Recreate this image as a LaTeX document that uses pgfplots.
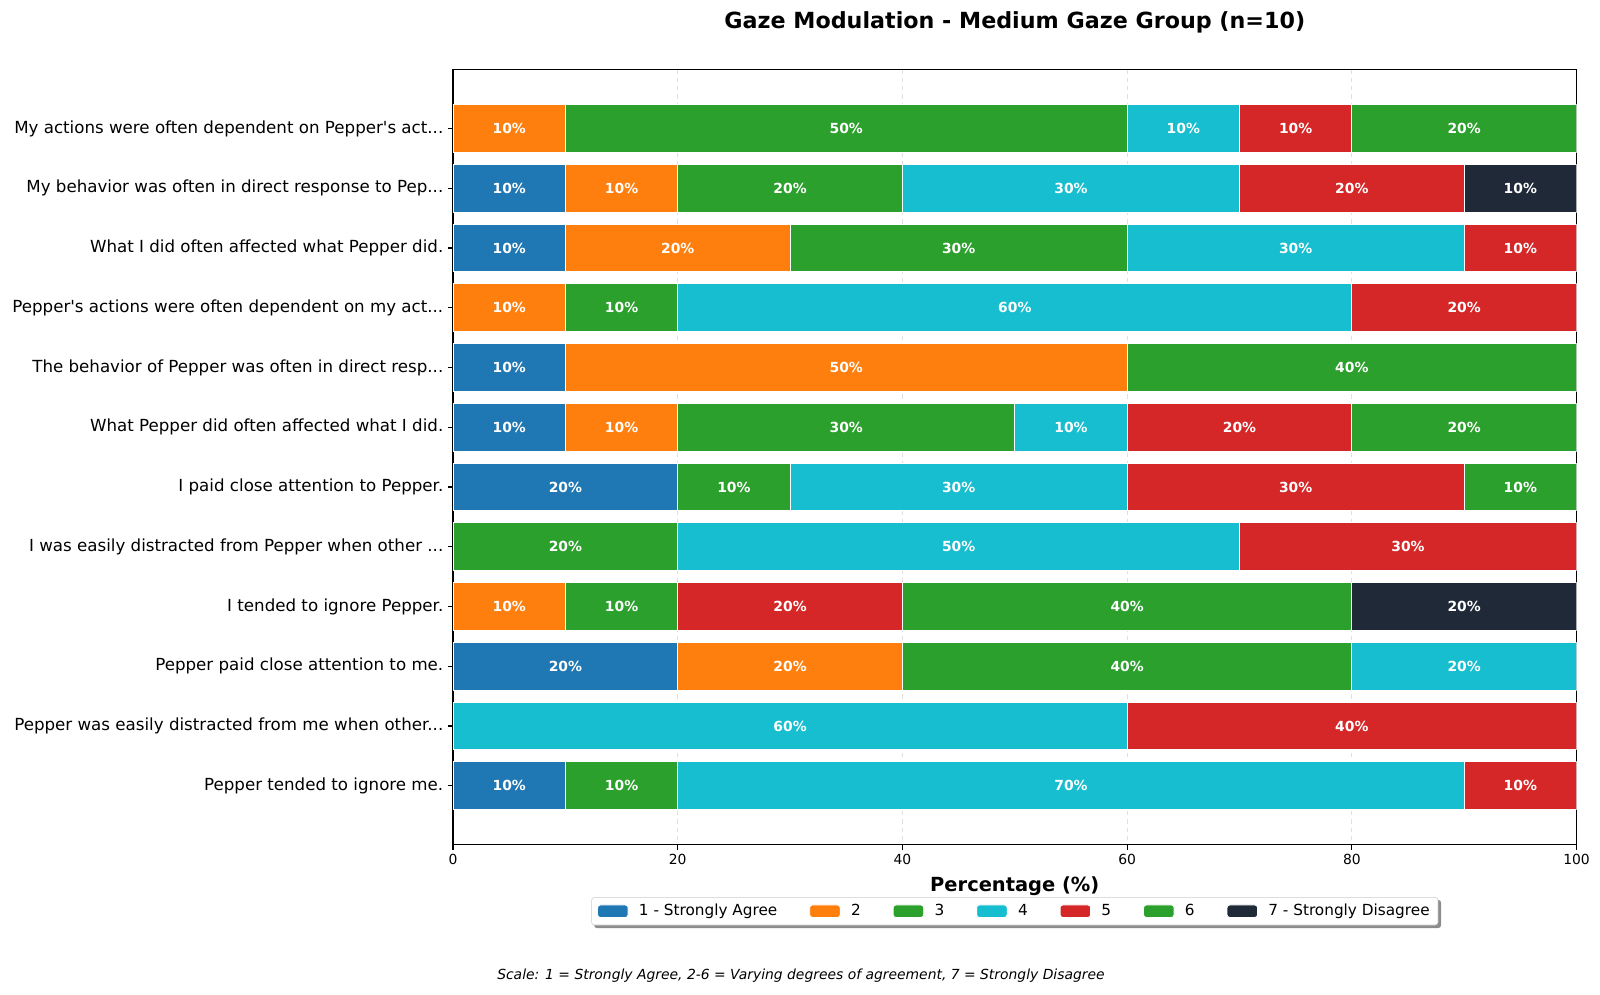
\documentclass[border=0pt]{standalone}
\usepackage{pgfplots}
\pgfplotsset{compat=1.18}
\usepackage{pgfplotstable}
\usepackage{fontspec}
\setmainfont{DejaVu Sans}
\pgfdeclarelayer{background}
\pgfsetlayers{background,main}
\definecolor{c1}{HTML}{1F77B4}
\definecolor{c2}{HTML}{FF7F0E}
\definecolor{c3}{HTML}{2CA02C}
\definecolor{c4}{HTML}{17BECF}
\definecolor{c5}{HTML}{D62728}
\definecolor{c6}{HTML}{2CA02C}
\definecolor{c7}{HTML}{1F2937}

\pgfplotstableread{
y c1 c2 c3 c4 c5 c6 c7
0 0 10 50 10 10 20 0
1 10 10 20 30 20 0 10
2 10 20 30 30 10 0 0
3 0 10 10 60 20 0 0
4 10 50 40 0 0 0 0
5 10 10 30 10 20 20 0
6 20 0 10 30 30 10 0
7 0 0 20 50 30 0 0
8 0 10 10 0 20 40 20
9 20 20 40 20 0 0 0
10 0 0 0 60 40 0 0
11 10 0 10 70 10 0 0
}\datatable

\pgfplotstableread{
x y v
5 0 10
35 0 50
65 0 10
75 0 10
90 0 20
5 1 10
15 1 10
30 1 20
55 1 30
80 1 20
95 1 10
5 2 10
20 2 20
45 2 30
75 2 30
95 2 10
5 3 10
15 3 10
50 3 60
90 3 20
5 4 10
35 4 50
80 4 40
5 5 10
15 5 10
35 5 30
55 5 10
70 5 20
90 5 20
10 6 20
25 6 10
45 6 30
75 6 30
95 6 10
10 7 20
45 7 50
85 7 30
5 8 10
15 8 10
30 8 20
60 8 40
90 8 20
10 9 20
30 9 20
60 9 40
90 9 20
30 10 60
80 10 40
5 11 10
15 11 10
55 11 70
95 11 10
}\labeltable

\begin{document}
\begin{tikzpicture}
\path[use as bounding box] (0,0) rectangle (1152pt,715.68pt);
\begin{axis}[
  at={(326.2pt,107.35pt)}, anchor=south west,
  scale only axis, width=808.9pt, height=558.4pt,
  xbar stacked, bar width=0.8,
  xmin=0, xmax=100, ymin=-0.99, ymax=11.99, y dir=reverse,
  xtick={0,20,40,60,80,100}, ytick={0,1,2,3,4,5,6,7,8,9,10,11},
  yticklabels={
    {My actions were often dependent on Pepper\textquotesingle s act.{}.{}.},
    {My behavior was often in direct response to Pep.{}.{}.},
    {What I did often affected what Pepper did.},
    {Pepper\textquotesingle s actions were often dependent on my act.{}.{}.},
    {The behavior of Pepper was often in direct resp.{}.{}.},
    {What Pepper did often affected what I did.},
    {I paid close attention to Pepper.},
    {I was easily distracted from Pepper when other .{}.{}.},
    {I tended to ignore Pepper.},
    {Pepper paid close attention to me.},
    {Pepper was easily distracted from me when other.{}.{}.},
    {Pepper tended to ignore me.}},
  tick align=outside, major tick length=3.5pt,
  xtick pos=bottom, ytick pos=left,
  xmajorgrids, major grid style={dashed, black!12, line width=0.6pt},
  axis line style={line width=0.8pt},
  every tick/.style={black, line width=0.8pt},
  /pgf/number format/assume math mode=true,
  xticklabel style={font=\fontsize{10}{12}\selectfont},
  yticklabel style={font=\fontsize{12}{14}\selectfont},
  title={Gaze Modulation - Medium Gaze Group (n=10)},
  title style={font=\bfseries\fontsize{16}{19}\selectfont, at={(axis description cs:0.5,1)}, anchor=center, yshift=28pt},
  xlabel={Percentage (\%)},
  xlabel style={font=\bfseries\fontsize{14}{17}\selectfont, at={(axis description cs:0.5,0)}, anchor=center, yshift=-30pt},
  legend columns=7,
  legend style={name=leg, at={(0.5,-0.0855)}, anchor=center, draw=black!20, rounded corners=2pt, fill=white,
    font=\fontsize{11}{13}\selectfont, inner xsep=4pt, inner ysep=3pt,
    /tikz/every odd column/.append style={column sep=5.5pt},
    /tikz/every even column/.append style={column sep=21pt}},
  legend image code/.code={\fill[#1] (0pt,-4.5pt) rectangle (22pt,4.5pt);},
  legend cell align=left,
]
\addplot[fill=c1, draw=white, line width=0.6pt] table[x=c1, y=y] {\datatable};
\addlegendentry{1 - Strongly Agree}
\addplot[fill=c2, draw=white, line width=0.6pt] table[x=c2, y=y] {\datatable};
\addlegendentry{2}
\addplot[fill=c3, draw=white, line width=0.6pt] table[x=c3, y=y] {\datatable};
\addlegendentry{3}
\addplot[fill=c4, draw=white, line width=0.6pt] table[x=c4, y=y] {\datatable};
\addlegendentry{4}
\addplot[fill=c5, draw=white, line width=0.6pt] table[x=c5, y=y] {\datatable};
\addlegendentry{5}
\addplot[fill=c6, draw=white, line width=0.6pt] table[x=c6, y=y] {\datatable};
\addlegendentry{6}
\addplot[fill=c7, draw=white, line width=0.6pt] table[x=c7, y=y] {\datatable};
\addlegendentry{7 - Strongly Disagree}
\end{axis}
\begin{pgfonlayer}{background}
\fill[black!45, rounded corners=2pt] ([shift={(2pt,-2pt)}]leg.south west) rectangle ([shift={(2pt,-2pt)}]leg.north east);
\end{pgfonlayer}
\begin{axis}[
  at={(326.2pt,107.35pt)}, anchor=south west,
  scale only axis, width=808.9pt, height=558.4pt,
  xmin=0, xmax=100, ymin=-0.99, ymax=11.99, y dir=reverse,
  hide axis,
  /pgf/number format/assume math mode=true,
]
\addplot[only marks, mark=*, mark size=0pt, mark options={draw=none, fill=none},
  point meta=\thisrow{v},
  nodes near coords={\pgfmathprintnumber[fixed, precision=0, assume math mode=true]{\pgfplotspointmeta}\%},
  nodes near coords style={font=\bfseries\fontsize{10}{12}\selectfont, text=white, anchor=center}]
  table[x=x, y=y] {\labeltable};
\end{axis}
\node[font=\itshape\fontsize{10}{12}\selectfont] at (576.7pt,13pt) {Scale: 1 = Strongly Agree, 2-6 = Varying degrees of agreement, 7 = Strongly Disagree};
\end{tikzpicture}
\end{document}
